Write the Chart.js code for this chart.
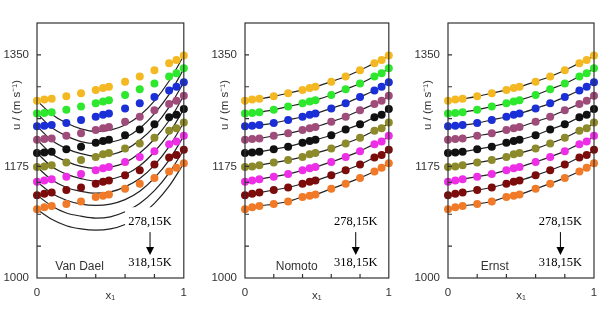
<!DOCTYPE html>
<html>
<head>
<meta charset="utf-8">
<script src="https://cdn.jsdelivr.net/npm/chart.js@4/dist/chart.umd.min.js"></script>
<style>
  body { margin: 0; background: #fff; }
  canvas { position: absolute; top: 0; }
</style>
</head>
<body>
<canvas id="vanDael" width="195" height="309" style="left:0"></canvas>
<canvas id="nomoto" width="205" height="309" style="left:195px"></canvas>
<canvas id="ernst" width="210" height="309" style="left:400px"></canvas>
<script>
// mole fraction x1 of the measured points
const xDots = [0, 0.05, 0.1, 0.2, 0.3, 0.4, 0.45, 0.49, 0.6, 0.7, 0.8, 0.9, 0.95, 1];
// x1 grid of the Van Dael curves
const xCurve = [0, 0.1, 0.2, 0.3, 0.4, 0.5, 0.6, 0.7, 0.8, 0.9, 1];

const temps = ['278,15K', '283,15K', '288,15K', '293,15K', '298,15K', '303,15K', '308,15K', '313,15K', '318,15K'];
const colors = ['#f4b823', '#2de82d', '#1a2fd6', '#a04c7a', '#111111', '#8c8a2a', '#ee2ee6', '#7c0c0c', '#f07a28'];

// measured u / (m s-1)
const u278 = [1278, 1280, 1281, 1285, 1290, 1295, 1298, 1300, 1308, 1316, 1326, 1337, 1342, 1349];
const u283 = [1258, 1259, 1260, 1264, 1269, 1274, 1277, 1279, 1287, 1296, 1305, 1316, 1321, 1329];
const u288 = [1238, 1239, 1240, 1243, 1248, 1253, 1256, 1258, 1266, 1274, 1284, 1294, 1300, 1307];
const u293 = [1217, 1218, 1219, 1223, 1227, 1232, 1235, 1237, 1245, 1253, 1263, 1273, 1278, 1286];
const u298 = [1196, 1197, 1198, 1202, 1206, 1212, 1215, 1217, 1224, 1233, 1241, 1252, 1256, 1265];
const u303 = [1174, 1175, 1177, 1181, 1185, 1190, 1194, 1196, 1203, 1211, 1220, 1231, 1235, 1244];
const u308 = [1151, 1153, 1155, 1159, 1163, 1169, 1172, 1174, 1182, 1190, 1199, 1210, 1214, 1223];
const u313 = [1130, 1132, 1134, 1138, 1142, 1148, 1151, 1153, 1161, 1169, 1178, 1189, 1193, 1201];
const u318 = [1108, 1111, 1113, 1116, 1120, 1127, 1129, 1131, 1140, 1148, 1157, 1167, 1173, 1180];
const measured = [u278, u283, u288, u293, u298, u303, u308, u313, u318];

// Van Dael model
const vd278 = [1278, 1257, 1243, 1234, 1230, 1232, 1240, 1255, 1278, 1309, 1349];
const vd283 = [1258, 1236, 1223, 1214, 1211, 1213, 1220, 1235, 1258, 1288, 1328];
const vd288 = [1238, 1216, 1203, 1195, 1191, 1193, 1201, 1216, 1238, 1268, 1307];
const vd293 = [1217, 1195, 1183, 1175, 1172, 1174, 1181, 1196, 1218, 1247, 1286];
const vd298 = [1196, 1175, 1163, 1156, 1152, 1155, 1162, 1176, 1198, 1227, 1265];
const vd303 = [1174, 1154, 1142, 1136, 1133, 1135, 1143, 1156, 1177, 1206, 1244];
const vd308 = [1151, 1133, 1122, 1116, 1114, 1116, 1123, 1136, 1157, 1185, 1223];
const vd313 = [1130, 1113, 1102, 1097, 1094, 1096, 1104, 1117, 1137, 1165, 1201];
const vd318 = [1108, 1092, 1082, 1077, 1075, 1077, 1084, 1097, 1117, 1144, 1180];
const vanDaelCurves = [vd278, vd283, vd288, vd293, vd298, vd303, vd308, vd313, vd318];

const yLabels = [1000, 1175, 1350];
const yTicks = [1050, 1100, 1150, 1175, 1200, 1250, 1300, 1350];
const xLabels = [0, 1];
const xTicks = [0.2, 0.4, 0.6, 0.8];

const sans = 'Liberation Sans, Arial, sans-serif';
const serif = 'Liberation Serif, Times New Roman, serif';

function pts(xs, ys) {
  return xs.map((x, i) => ({ x: x, y: ys[i] }));
}

function dotSets() {
  return measured.map((row, i) => ({
    label: temps[i],
    data: pts(xDots, row),
    showLine: false,
    pointRadius: 4,
    pointBackgroundColor: colors[i],
    pointBorderWidth: 0,
    clip: false,
    order: 0
  }));
}

function curveSets(xs, rows) {
  return rows.map((row) => ({
    data: pts(xs, row),
    showLine: true,
    pointRadius: 0,
    borderColor: '#222',
    borderWidth: 1.2,
    cubicInterpolationMode: 'monotone',
    order: 1
  }));
}

function decor(name, nameX, box) {
  return {
    id: 'decor',
    afterDatasetsDraw(chart) {
      const ctx = chart.ctx;
      const a = chart.chartArea;
      const xs = chart.scales.x, ys = chart.scales.y;
      ctx.save();
      if (box) {
        ctx.fillStyle = '#fff';
        const bx = xs.getPixelForValue(0.6), by = ys.getPixelForValue(1111);
        ctx.fillRect(bx, by, a.right - bx, a.bottom - by);
      }
      ctx.strokeStyle = '#333';
      ctx.lineWidth = 1.2;
      ctx.strokeRect(a.left, a.top, a.width, a.height);
      ctx.beginPath();
      yTicks.forEach(v => {
        const y = ys.getPixelForValue(v);
        ctx.moveTo(a.left, y); ctx.lineTo(a.left + 4, y);
      });
      xTicks.forEach(v => {
        const x = xs.getPixelForValue(v);
        ctx.moveTo(x, a.bottom); ctx.lineTo(x, a.bottom - 4);
      });
      ctx.stroke();

      // axis titles
      ctx.fillStyle = '#333';
      ctx.font = '11.5px ' + sans;
      ctx.textAlign = 'center';
      ctx.textBaseline = 'middle';
      ctx.save();
      ctx.translate(a.left - 20, 105);
      ctx.rotate(-Math.PI / 2);
      ctx.fillText('u / (m s\u207B\u00B9)', 0, 0);
      ctx.restore();
      ctx.fillText('x\u2081', (a.left + a.right) / 2, a.bottom + 18);

      // model name
      ctx.font = '12px ' + sans;
      ctx.fillText(name, xs.getPixelForValue(nameX), ys.getPixelForValue(1017));

      // temperature arrow
      const ax = xs.getPixelForValue(0.77);
      ctx.fillStyle = '#000';
      ctx.strokeStyle = '#000';
      ctx.font = '12.5px ' + serif;
      ctx.fillText(temps[0], ax, ys.getPixelForValue(1088));
      ctx.fillText(temps[temps.length - 1], ax, ys.getPixelForValue(1024));
      const y0 = ys.getPixelForValue(1072), y1 = ys.getPixelForValue(1036);
      ctx.lineWidth = 1;
      ctx.beginPath();
      ctx.moveTo(ax, y0); ctx.lineTo(ax, y1 - 6);
      ctx.stroke();
      ctx.beginPath();
      ctx.moveTo(ax - 4, y1 - 8); ctx.lineTo(ax + 4, y1 - 8); ctx.lineTo(ax, y1);
      ctx.closePath();
      ctx.fill();
      ctx.restore();
    }
  };
}

function makeChart(id, datasets, yWidth, rightPad, name, nameX, box) {
  return new Chart(document.getElementById(id).getContext('2d'), {
    type: 'scatter',
    data: { datasets: datasets },
    options: {
      responsive: false,
      animation: false,
      devicePixelRatio: 1,
      layout: { padding: { top: 23, right: rightPad, left: 0, bottom: 0 } },
      plugins: { legend: { display: false }, tooltip: { enabled: false } },
      scales: {
        x: {
          type: 'linear', min: 0, max: 1,
          afterBuildTicks: s => { s.ticks = xLabels.map(v => ({ value: v })); },
          afterFit: s => { s.height = 31; },
          ticks: { callback: v => String(v), padding: 8, maxRotation: 0, color: '#333', font: { family: sans, size: 11.5 } },
          grid: { display: false, drawTicks: false },
          border: { display: false }
        },
        y: {
          type: 'linear', min: 1000, max: 1400,
          afterBuildTicks: s => { s.ticks = yLabels.map(v => ({ value: v })); },
          afterFit: s => { s.width = yWidth; },
          ticks: { callback: v => String(v), padding: 8, color: '#333', font: { family: sans, size: 11.5 } },
          grid: { display: false, drawTicks: false },
          border: { display: false }
        }
      }
    },
    plugins: [decor(name, nameX, box)]
  });
}

makeChart('vanDael', dotSets().concat(curveSets(xCurve, vanDaelCurves)), 37, 7, 'Van Dael', 0.29, true);
makeChart('nomoto', dotSets().concat(curveSets(xDots, measured)), 50, 9, 'Nomoto', 0.36, false);
makeChart('ernst', dotSets().concat(curveSets(xDots, measured)), 48, 16, 'Ernst', 0.32, false);
</script>
</body>
</html>
